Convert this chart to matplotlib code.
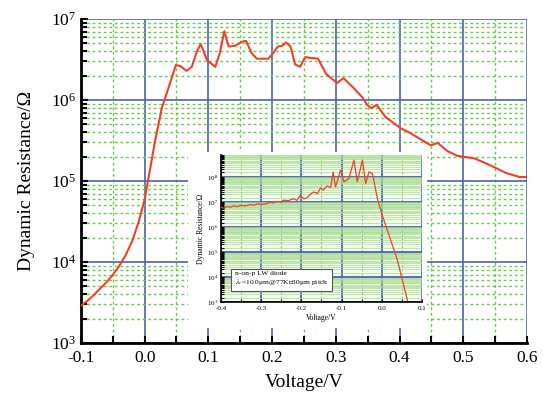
import numpy as np
import matplotlib.pyplot as plt
from matplotlib.ticker import LogLocator, MultipleLocator, FixedLocator, NullFormatter
from matplotlib.patches import Rectangle

plt.rcParams['font.family'] = ['Liberation Serif', 'DejaVu Serif']
plt.rcParams['mathtext.fontset'] = 'stix'

# main curve: voltage (V) and log10 of dynamic resistance (ohm)
volt = [-0.1, -0.09, -0.08, -0.07, -0.06, -0.05, -0.04, -0.03, -0.02, -0.01,
        0.0, 0.008, 0.016, 0.027, 0.037,
        0.049, 0.056, 0.066, 0.074, 0.082, 0.088, 0.098, 0.111, 0.118, 0.125,
        0.132, 0.142, 0.153, 0.159, 0.168, 0.176, 0.194, 0.200, 0.209, 0.216,
        0.222, 0.229, 0.236, 0.244, 0.252, 0.260, 0.272, 0.285, 0.302, 0.312,
        0.329, 0.342, 0.349, 0.356, 0.364, 0.378, 0.402, 0.415, 0.449, 0.460,
        0.475, 0.491, 0.517, 0.538, 0.567, 0.588, 0.600]
logr = [3.46, 3.52, 3.59, 3.67, 3.75, 3.84, 3.95, 4.08, 4.25, 4.48,
        4.77, 5.12, 5.48, 5.90, 6.14,
        6.43, 6.42, 6.36, 6.41, 6.60, 6.69, 6.49, 6.41, 6.58, 6.85,
        6.66, 6.67, 6.72, 6.73, 6.58, 6.51, 6.51, 6.56, 6.66, 6.67,
        6.71, 6.66, 6.44, 6.41, 6.53, 6.52, 6.51, 6.32, 6.21, 6.27,
        6.14, 6.03, 5.94, 5.90, 5.94, 5.79, 5.65, 5.60, 5.44, 5.47,
        5.37, 5.31, 5.28, 5.21, 5.10, 5.05, 5.05]

# inset curve
ins_volt = [-0.4, -0.392, -0.385, -0.377, -0.369, -0.36, -0.35, -0.34, -0.3275, -0.318,
            -0.31, -0.298, -0.286, -0.278, -0.27, -0.258, -0.25, -0.244,
            -0.232, -0.225, -0.219, -0.211, -0.2025, -0.194, -0.186, -0.178, -0.169,
            -0.16, -0.1525, -0.145, -0.136, -0.127,
            -0.121, -0.115, -0.1025, -0.094, -0.082, -0.069, -0.061, -0.048, -0.04, -0.0317,
            -0.023, -0.0108, 0.0, 0.014, 0.039, 0.064]
ins_logr = [6.78, 6.75, 6.82, 6.79, 6.84, 6.82, 6.86, 6.84, 6.89, 6.87,
            6.92, 6.90, 6.93, 6.99, 6.96, 7.02, 6.99, 7.07,
            7.05, 7.10, 7.13, 7.06, 7.27, 7.12, 7.16, 7.30, 7.40,
            7.33, 7.56, 7.48, 7.64, 7.58,
            8.2, 7.6, 8.27, 7.8, 7.93, 8.67, 7.8, 8.67, 7.73, 8.2,
            8.13, 7.13, 6.53, 5.87, 4.67, 3.07]

blue = '#4a62b0'
green = '#66cc44'
red = '#f04028'

fig = plt.figure(figsize=(5.43, 4.0), dpi=100)
ax = fig.add_axes([0.149, 0.1425, 0.8215, 0.81])
ax.plot(volt, 10 ** np.array(logr), color=red, lw=1.5, zorder=5)
ax.set_yscale('log')
ax.set_xlim(-0.1, 0.6)
ax.set_ylim(1e3, 1e7)
ax.xaxis.set_major_locator(MultipleLocator(0.1))
ax.xaxis.set_minor_locator(MultipleLocator(0.05))
ax.yaxis.set_major_locator(LogLocator(base=10, numticks=10))
ax.yaxis.set_minor_locator(LogLocator(base=10, subs=np.arange(2, 10), numticks=20))
ax.yaxis.set_minor_formatter(NullFormatter())
ax.set_xticklabels([f'{v:.1f}' for v in ax.get_xticks()])
ax.grid(which='major', color=blue, lw=1.2, ls='-')
ax.grid(which='minor', color=green, lw=1.0, ls=(0, (2, 2)))
ax.set_axisbelow(True)
for s in ['top', 'right']:
    ax.spines[s].set_visible(False)
for s in ['left', 'bottom']:
    ax.spines[s].set_linewidth(2)
ax.tick_params(which='both', direction='in', length=5, width=1.5, labelsize=12.5)
ax.tick_params(axis='y', which='minor', length=4)
ax.tick_params(axis='x', pad=5)
ax.set_xlabel('Voltage/V', fontsize=14, labelpad=6)
ax.set_ylabel('Dynamic Resistance/Ω', fontsize=14, labelpad=11)

# white region behind inset
fig.patches.append(Rectangle((0.346, 0.18), 0.44, 0.44, transform=fig.transFigure,
                             facecolor='white', edgecolor='none', zorder=1))

ins = fig.add_axes([0.407, 0.245, 0.37, 0.3675])
ins.set_zorder(3)
ins.set_facecolor('#f3faee')
ins.plot(ins_volt, 10 ** np.array(ins_logr), color=red, lw=0.9, zorder=5)
ins.set_yscale('log')
ins.set_xlim(-0.4, 0.1)
ins.set_ylim(1e3, 7.5e8)
ins.xaxis.set_major_locator(MultipleLocator(0.1))
ins.xaxis.set_minor_locator(MultipleLocator(0.05))
ins.yaxis.set_major_locator(FixedLocator([1e3, 1e4, 1e5, 1e6, 1e7, 1e8]))
ins.yaxis.set_minor_locator(LogLocator(base=10, subs=np.arange(1.5, 10, 0.5), numticks=30))
ins.yaxis.set_minor_formatter(NullFormatter())
ins.set_xticklabels([f'{v:.1f}' for v in ins.get_xticks()])
ins.grid(which='major', color=blue, lw=1.3, ls='-')
ins.grid(which='minor', axis='y', color='#a8dc90', lw=0.5, ls='-')
ins.grid(which='minor', axis='x', color=green, lw=0.7, ls=(0, (2, 2)))
ins.set_axisbelow(True)
for s in ['top', 'right']:
    ins.spines[s].set_visible(False)
for s in ['left', 'bottom']:
    ins.spines[s].set_linewidth(1.2)
ins.tick_params(which='both', direction='in', length=2.5, width=0.8, labelsize=5)
ins.tick_params(axis='x', pad=3)
ins.tick_params(axis='y', pad=2)
ins.set_xlabel('Voltage/V', fontsize=5.5, labelpad=2)
ins.set_ylabel('Dynamic Resistance/Ω', fontsize=5.5, labelpad=1)
ins.text(0.07, 0.1, 'n-on-p LW diode\n$\\lambda_c$=10.0μm@77K，30μm pitch',
         transform=ins.transAxes, fontsize=5.4, va='bottom', ha='left', zorder=6,
         family=['Liberation Serif', 'Noto Sans CJK SC'],
         bbox=dict(boxstyle='square,pad=0.5', facecolor='white', edgecolor='#555555', lw=0.8))

fig.savefig('out.png', dpi=100)
